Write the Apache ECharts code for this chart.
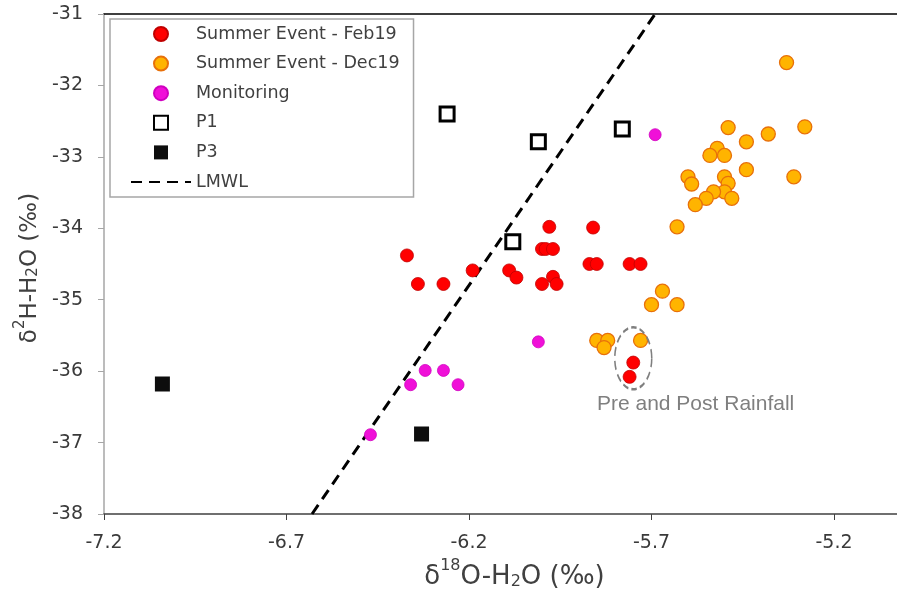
<!DOCTYPE html>
<html>
<head>
<meta charset="utf-8">
<script src="https://cdn.jsdelivr.net/npm/echarts@6/dist/echarts.min.js"></script>
<style>
  html, body { margin: 0; padding: 0; background: #fff; }
  #main { width: 897px; height: 590px; }
</style>
</head>
<body>
<div id="main"></div>
<script>
// x tick labels run -7.2 .. -5.2 step 0.5, y -38 .. -31 step 1
var xTicks = [-7.2, -6.7, -6.2, -5.7, -5.2];
var yTicks = [-38, -37, -36, -35, -34, -33, -32, -31];

// Summer Event - Feb19
var feb19X = [-5.98, -5.86, -6.00, -5.99, -5.97, -6.37, -6.34, -6.27, -6.19, -6.09,
	-6.07, -6.00, -5.97, -5.96, -5.87, -5.85, -5.76, -5.73, -5.75, -5.76];
var feb19Y = [-33.98, -33.99, -34.29, -34.29, -34.29, -34.38, -34.78, -34.78, -34.59, -34.59,
	-34.69, -34.78, -34.68, -34.78, -34.50, -34.50, -34.50, -34.50, -35.88, -36.08];

// Summer Event - Dec19
var dec19X = [-5.33, -5.49, -5.38, -5.28, -5.44, -5.52, -5.54, -5.50, -5.44, -5.31,
	-5.60, -5.59, -5.50, -5.49, -5.50, -5.53, -5.55, -5.58, -5.48, -5.63,
	-5.67, -5.70, -5.63, -5.85, -5.82, -5.83, -5.73];
var dec19Y = [-31.68, -32.59, -32.68, -32.58, -32.79, -32.88, -32.98, -32.98, -33.18, -33.28,
	-33.28, -33.38, -33.28, -33.37, -33.49, -33.49, -33.58, -33.67, -33.58, -33.98,
	-34.88, -35.07, -35.07, -35.57, -35.57, -35.67, -35.57];

// Monitoring
var monX = [-5.69, -6.01, -6.36, -6.32, -6.27, -6.23, -6.47];
var monY = [-32.69, -35.59, -36.19, -35.99, -35.99, -36.19, -36.89];

// P1 / P3
var p1X = [-6.26, -6.01, -5.78, -6.08];
var p1Y = [-32.40, -32.79, -32.61, -34.19];
var p3X = [-7.04, -6.33];
var p3Y = [-36.18, -36.88];

// LMWL end points
var lmwlX = [-6.63, -5.69];
var lmwlY = [-38, -31];

// pre / post rainfall note (ellipse centre)
var noteX = [-5.75];
var noteY = [-35.82];

function zip(xs, ys) {
	var out = [];
	for (var i = 0; i < xs.length; i++) {
		out.push([xs[i], ys[i]]);
	}
	return out;
}

var axisFont = 'DejaVu Sans';
var noteFont = 'Liberation Sans';
var squareIcon = 'path://M0,0L10,0L10,10L0,10Z';

var myChart = echarts.init(document.getElementById('main'));

var option = {
	animation: false,
	grid: {
		left: 104,
		top: 14,
		width: 803,
		height: 500,
		outerBoundsMode: 'none',
		containLabel: false
	},
	legend: {
		orient: 'vertical',
		left: 110,
		top: 19,
		padding: [5, 14, 5, 20],
		itemWidth: 60,
		itemHeight: 14,
		itemGap: 9.6,
		borderColor: '#A6A6A6',
		borderWidth: 1.5,
		selectedMode: false,
		textStyle: {
			fontFamily: axisFont,
			fontSize: 17.5,
			color: '#404040',
			lineHeight: 20
		},
		data: [
			'Summer Event - Feb19',
			'Summer Event - Dec19',
			'Monitoring',
			{ name: 'P1', icon: squareIcon },
			{ name: 'P3', icon: squareIcon },
			{ name: 'LMWL', itemStyle: { color: 'rgba(0,0,0,0)', borderWidth: 0 } }
		]
	},
	xAxis: [
		{
			type: 'value',
			min: xTicks[0],
			max: -5.0,
			interval: 0.5,
			position: 'bottom',
			axisLine: { onZero: false, lineStyle: { color: '#404040', width: 1.5 } },
			axisTick: { show: true, length: 6, lineStyle: { color: '#404040' } },
			axisLabel: {
				margin: 20,
				fontFamily: axisFont,
				fontSize: 19,
				color: '#3A3A3A',
				showMaxLabel: false,
				formatter: function (v) { return v.toFixed(1); }
			},
			splitLine: { show: false },
			name: '{a|δ}{sup|18}{a|O-H}{sub|2}{a|O (‰)}',
			nameLocation: 'middle',
			nameGap: 35,
			nameTextStyle: {
				padding: [0, 0, 0, 18],
				rich: {
					a: { fontFamily: axisFont, fontSize: 26, color: '#404040', lineHeight: 32, verticalAlign: 'bottom' },
					sup: { fontFamily: axisFont, fontSize: 16, color: '#404040', lineHeight: 32, verticalAlign: 'top', padding: [0, 0, 11, 0] },
					sub: { fontFamily: axisFont, fontSize: 16, color: '#404040', lineHeight: 32, verticalAlign: 'bottom', padding: [7, 0, 0, 0] }
				}
			}
		},
		{
			type: 'value',
			min: xTicks[0],
			max: -5.0,
			position: 'top',
			axisLine: { onZero: false, lineStyle: { color: '#000', width: 1.5 } },
			axisTick: { show: false },
			axisLabel: { show: false },
			splitLine: { show: false }
		}
	],
	yAxis: {
		type: 'value',
		min: yTicks[0],
		max: yTicks[yTicks.length - 1],
		interval: 1,
		axisLine: { show: true, onZero: false, lineStyle: { color: '#A6A6A6', width: 1.5 } },
		axisTick: { show: true, length: 6, lineStyle: { color: '#A6A6A6' } },
		axisLabel: {
			margin: 21,
			fontFamily: axisFont,
			fontSize: 19,
			color: '#3A3A3A'
		},
		splitLine: { show: false },
		name: '{a|δ}{sup|2}{a|H-H}{sub|2}{a|O (‰)}',
		nameLocation: 'middle',
		nameRotate: 90,
		nameGap: 62,
		nameTextStyle: {
			padding: [0, 8, 0, 0],
			rich: {
				a: { fontFamily: axisFont, fontSize: 23, color: '#404040', lineHeight: 28, verticalAlign: 'bottom' },
				sup: { fontFamily: axisFont, fontSize: 15, color: '#404040', lineHeight: 28, verticalAlign: 'top', padding: [0, 0, 10, 0] },
				sub: { fontFamily: axisFont, fontSize: 15, color: '#404040', lineHeight: 28, verticalAlign: 'bottom', padding: [6, 0, 0, 0] }
			}
		}
	},
	series: [
		{
			name: 'LMWL',
			type: 'line',
			symbol: 'none',
			showSymbol: false,
			z: 1,
			lineStyle: { color: '#000', width: 3, type: [11, 7] },
			itemStyle: { color: '#000' },
			data: zip(lmwlX, lmwlY)
		},
		{
			name: 'Summer Event - Feb19',
			type: 'scatter',
			symbol: 'circle',
			symbolSize: 13,
			z: 3,
			itemStyle: { color: '#FF0000', borderColor: '#C00000', borderWidth: 0.8, opacity: 1 },
			data: zip(feb19X, feb19Y)
		},
		{
			name: 'Summer Event - Dec19',
			type: 'scatter',
			symbol: 'circle',
			symbolSize: 14,
			z: 3,
			itemStyle: { color: '#FFB400', borderColor: '#E8700A', borderWidth: 1.3, opacity: 1 },
			data: zip(dec19X, dec19Y)
		},
		{
			name: 'Monitoring',
			type: 'scatter',
			symbol: 'circle',
			symbolSize: 12,
			z: 3,
			itemStyle: { color: '#F010D8', borderColor: '#D000C0', borderWidth: 0.8, opacity: 1 },
			data: zip(monX, monY)
		},
		{
			name: 'P1',
			type: 'scatter',
			symbol: 'rect',
			symbolSize: 14,
			z: 3,
			itemStyle: { color: '#FFFFFF', borderColor: '#000000', borderWidth: 3, opacity: 1 },
			data: zip(p1X, p1Y)
		},
		{
			name: 'P3',
			type: 'scatter',
			symbol: 'rect',
			symbolSize: 15,
			z: 3,
			itemStyle: { color: '#0D0D0D', borderColor: '#000000', borderWidth: 0, opacity: 1 },
			data: zip(p3X, p3Y)
		},
		{
			name: 'note',
			type: 'scatter',
			symbol: 'circle',
			symbolSize: [37, 62],
			silent: true,
			z: 4,
			itemStyle: {
				color: 'rgba(0,0,0,0)',
				borderColor: '#7F7F7F',
				borderWidth: 2,
				borderType: [7, 4],
				opacity: 1
			},
			label: {
				show: true,
				position: [-17, 68],
				align: 'left',
				verticalAlign: 'top',
				formatter: 'Pre and Post Rainfall',
				fontFamily: noteFont,
				fontSize: 21,
				color: '#7F7F7F'
			},
			data: zip(noteX, noteY)
		}
	]
};

myChart.setOption(option);
</script>
</body>
</html>
